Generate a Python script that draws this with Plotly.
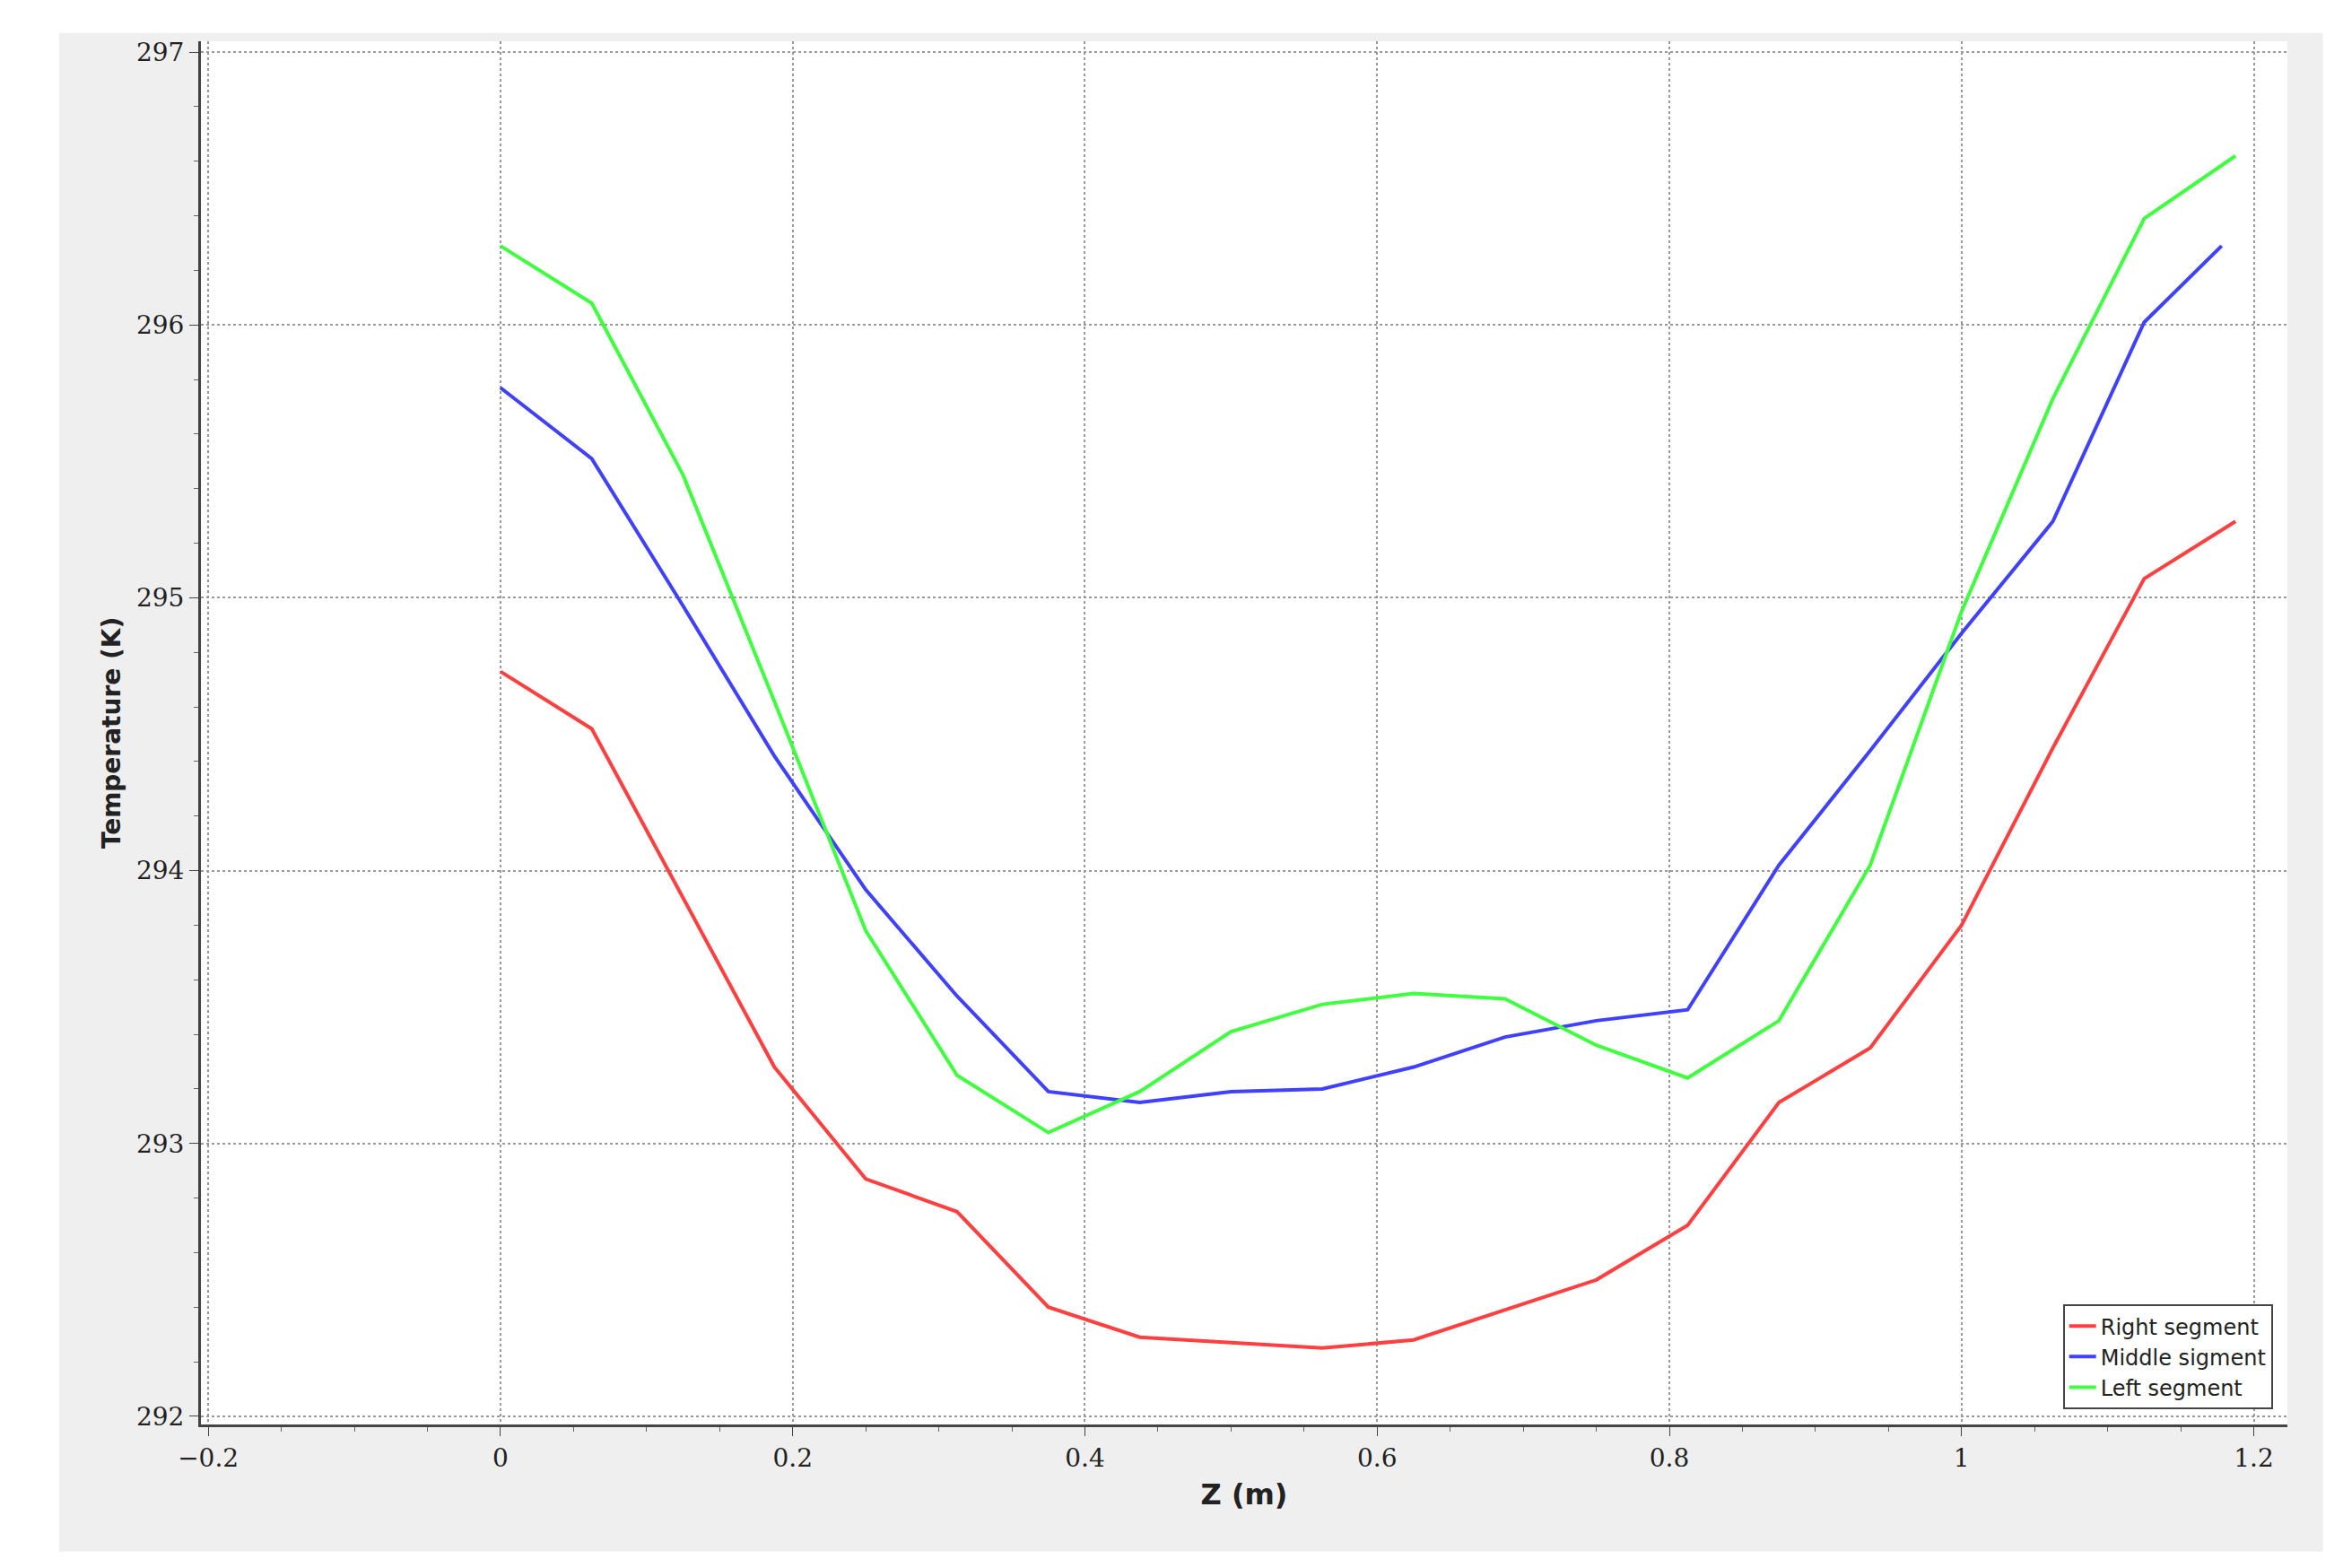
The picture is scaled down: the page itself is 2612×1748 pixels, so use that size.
import plotly.graph_objects as go

z = [i * 0.0625 for i in range(20)]
z_mid = z[:-1] + [1.178]
right = [294.73, 294.52, 293.90, 293.28, 292.87, 292.75, 292.40, 292.29, 292.27, 292.25,
         292.28, 292.39, 292.50, 292.70, 293.15, 293.35, 293.80, 294.45, 295.07, 295.28]
middle = [295.77, 295.51, 294.97, 294.42, 293.93, 293.54, 293.19, 293.15, 293.19, 293.20,
          293.28, 293.39, 293.45, 293.49, 294.02, 294.44, 294.87, 295.28, 296.01, 296.29]
left = [296.29, 296.08, 295.45, 294.62, 293.78, 293.25, 293.04, 293.19, 293.41, 293.51,
        293.55, 293.53, 293.36, 293.24, 293.45, 294.02, 294.95, 295.73, 296.39, 296.62]

fig = go.Figure()
fig.add_trace(go.Scatter(x=z, y=right, mode="lines", name="Right segment", line=dict(color="#ff4040", width=4)))
fig.add_trace(go.Scatter(x=z_mid, y=middle, mode="lines", name="Middle sigment", line=dict(color="#4040ff", width=4)))
fig.add_trace(go.Scatter(x=z, y=left, mode="lines", name="Left segment", line=dict(color="#40ff40", width=4)))

# white frame outside the grey panel
for (x0, x1, y0, y1) in [(-0.2, -0.068, -0.2, 1.1), (1.017, 1.1, -0.2, 1.1),
                         (-0.2, 1.1, -0.2, -0.092), (-0.2, 1.1, 1.006, 1.1)]:
    fig.add_shape(type="rect", xref="paper", yref="paper", x0=x0, x1=x1, y0=y0, y1=y1,
                  fillcolor="white", line=dict(width=0), layer="below")

axcommon = dict(showgrid=True, gridcolor="#999999", griddash="dot", gridwidth=2,
                showline=True, linecolor="#444444", linewidth=3, mirror=False,
                ticks="outside", ticklen=10, tickcolor="#444444", zeroline=False,
                tickfont=dict(family="DejaVu Serif", size=28, color="#222222"),
                minor=dict(ticks="outside", ticklen=5, tickcolor="#666666", showgrid=False))
fig.update_xaxes(range=[-0.205, 1.223], dtick=0.2, tick0=0,
                 title=dict(text="<b>Z (m)</b>", font=dict(family="DejaVu Sans", size=32, color="#222")),
                 **axcommon)
fig.update_yaxes(range=[291.97, 297.04], dtick=1,
                 title=dict(text="<b>Temperature (K)</b>", font=dict(family="DejaVu Sans", size=28, color="#222"), standoff=10),
                 **axcommon)
fig.update_xaxes(minor_dtick=0.05)
fig.update_yaxes(minor_dtick=0.2)

fig.update_layout(width=2612, height=1748, paper_bgcolor="#efefef", plot_bgcolor="white",
                  separators=".,",
                  margin=dict(l=216, r=70, t=38, b=168),
                  legend=dict(x=0.993, y=0.011, xanchor="right", yanchor="bottom",
                              bordercolor="#444", borderwidth=2, bgcolor="white",
                              font=dict(family="DejaVu Sans", size=24, color="#222")))
fig.write_html("out.html")
